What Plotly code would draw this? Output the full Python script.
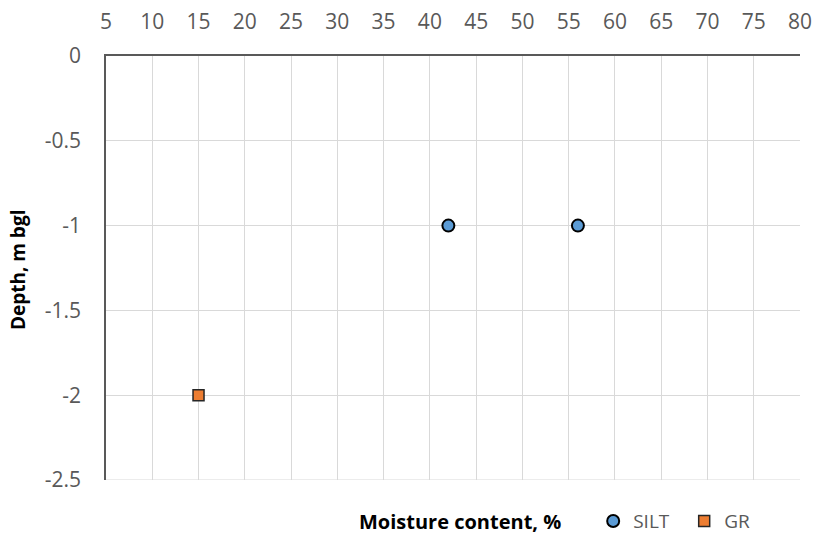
import plotly.graph_objects as go

silt_moisture = [42, 56]
silt_depth = [-1, -1]
gr_moisture = [15]
gr_depth = [-2]

x_ticks = list(range(5, 81, 5))
y_ticks = [0, -0.5, -1, -1.5, -2, -2.5]
y_labels = ["0", "-0.5", "-1", "-1.5", "-2", "-2.5"]

font = "Open Sans, Liberation Sans, sans-serif"
tick_font = dict(family=font, size=21, color="#595959")

fig = go.Figure()
fig.add_trace(go.Scatter(x=silt_moisture, y=silt_depth, mode="markers", name="SILT",
                         marker=dict(symbol="circle", size=12, color="#5B9BD5",
                                     line=dict(color="#000000", width=2))))
fig.add_trace(go.Scatter(x=gr_moisture, y=gr_depth, mode="markers", name="GR",
                         marker=dict(symbol="square", size=11, color="#ED7D31",
                                     line=dict(color="#262626", width=1.5))))

fig.update_layout(
    width=818, height=535,
    margin=dict(l=106, r=18, t=56, b=55, autoexpand=False),
    paper_bgcolor="white", plot_bgcolor="white",
    font=dict(family=font, size=20, color="#595959"),
    showlegend=True,
    legend=dict(orientation="h", x=0.702, y=-0.097, xanchor="left", yanchor="middle",
                font=dict(size=19, color="#595959"), entrywidth=46,
                bgcolor="rgba(0,0,0,0)"),
    xaxis=dict(side="top", range=[5, 80], tickvals=x_ticks, showgrid=True,
               gridcolor="#D9D9D9", gridwidth=1, showline=True, linecolor="#595959",
               linewidth=1.5, zeroline=False, ticks="", ticklabelstandoff=17,
               tickfont=tick_font, automargin=False),
    yaxis=dict(range=[-2.5, 0], tickvals=y_ticks, ticktext=y_labels, showgrid=True,
               gridcolor="#D9D9D9", gridwidth=1, showline=True, linecolor="#595959",
               linewidth=1.5, zeroline=False, ticks="", ticklabelstandoff=19,
               tickfont=tick_font, automargin=False),
    shapes=[dict(type="line", xref="paper", yref="y", x0=0, x1=1, y0=-2.5, y1=-2.5,
                 line=dict(color="#D9D9D9", width=1), layer="below")],
    annotations=[
        dict(text="<b>Moisture content, %</b>", x=0.51, y=-0.099,
             xref="paper", yref="paper", showarrow=False,
             font=dict(size=20, color="#000000"), xanchor="center", yanchor="middle"),
        dict(text="<b>Depth, m bgl</b>", x=-0.1268, y=0.495, textangle=-90,
             xref="paper", yref="paper", showarrow=False,
             font=dict(size=19, color="#000000"), xanchor="center", yanchor="middle"),
    ],
)

fig.write_html("out.html", config={"displayModeBar": False},
               post_script="document.body.style.margin='0';")
